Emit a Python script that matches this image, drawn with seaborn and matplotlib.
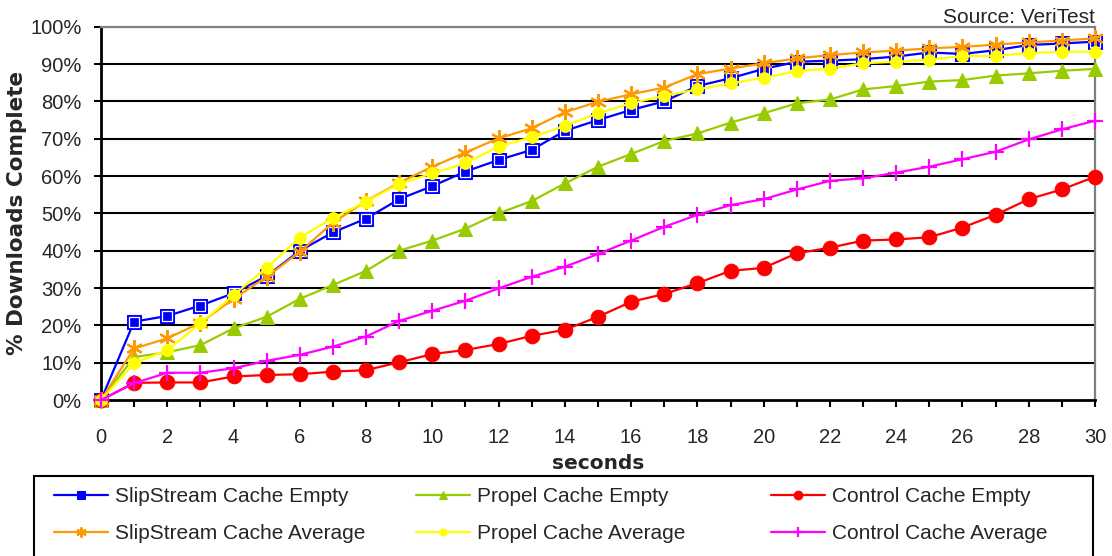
import numpy as np
import seaborn as sns
import matplotlib.pyplot as plt
from matplotlib.patches import Rectangle
from matplotlib.ticker import PercentFormatter, MultipleLocator

# -----------------------------------------------------------------------------
# Data (% downloads complete per second)
# -----------------------------------------------------------------------------
seconds = list(range(0, 31))

slip_empty = [0, 21.0, 22.5, 25.3, 28.6, 33.2, 40.0, 44.9, 48.6, 53.8, 57.3,
              61.2, 64.3, 67.0, 72.1, 75.0, 77.7, 80.0, 84.1, 86.2, 88.7,
              90.6, 90.9, 91.3, 92.0, 93.1, 92.7, 93.7, 95.1, 95.5, 96.0]
slip_avg = [0, 13.8, 16.5, 20.7, 27.1, 33.0, 39.7, 47.5, 53.3, 58.2, 62.5,
            66.3, 70.1, 72.8, 77.1, 79.9, 81.9, 83.7, 87.3, 88.8, 90.2,
            91.5, 92.4, 93.1, 93.6, 94.2, 94.6, 95.2, 95.8, 96.3, 96.9]
propel_empty = [0, 11.5, 12.8, 14.7, 19.2, 22.3, 27.1, 30.8, 34.6, 40.0, 42.7,
                45.9, 50.0, 53.3, 58.0, 62.5, 65.9, 69.4, 71.4, 74.3, 76.8,
                79.5, 80.5, 83.2, 84.1, 85.3, 85.7, 86.9, 87.5, 88.2, 88.7]
propel_avg = [0, 9.8, 13.4, 20.5, 28.1, 35.4, 43.5, 48.8, 53.1, 57.9, 60.7,
              63.4, 67.9, 70.4, 73.4, 76.8, 79.5, 81.5, 83.2, 84.8, 86.3,
              88.1, 88.8, 90.2, 90.6, 91.2, 92.1, 92.2, 92.9, 93.3, 93.3]
control_empty = [0, 4.6, 4.7, 4.7, 6.3, 6.7, 6.9, 7.6, 8.0, 10.1, 12.3,
                 13.4, 15.0, 17.2, 18.8, 22.3, 26.3, 28.4, 31.3, 34.6, 35.4,
                 39.3, 40.8, 42.7, 43.0, 43.6, 46.2, 49.6, 53.8, 56.4, 59.8]
control_avg = [0, 4.5, 7.3, 7.3, 8.5, 10.5, 12.1, 14.3, 17.0, 21.2, 23.9,
               26.6, 29.9, 33.0, 35.7, 39.1, 42.7, 46.4, 49.6, 52.2, 53.8,
               56.4, 58.7, 59.4, 60.9, 62.5, 64.5, 66.5, 69.8, 72.5, 74.8]

sns.set_theme(style="white")
plt.rcParams["font.family"] = ["Liberation Sans", "DejaVu Sans"]

W, H = 1112, 556
fig = plt.figure(figsize=(W / 100, H / 100), dpi=100)
ax = fig.add_axes([101 / W, 1 - 400 / H, (1095 - 101) / W, (400 - 26.7) / H])

# horizontal gridlines
for yv in range(10, 100, 10):
    ax.axhline(yv, color="black", lw=1.5, zorder=1)

lw = 1.6
sns.lineplot(x=seconds, y=slip_empty, ax=ax, color="#0000FF", lw=lw,
             marker="s", markersize=10.5, markeredgecolor="#0000FF",
             label="SlipStream Cache Empty", zorder=3, clip_on=False)
ax.plot(seconds, slip_empty, ls="none", marker="s", markersize=6.5,
        markerfacecolor="none", markeredgecolor="white", markeredgewidth=0.9,
        zorder=3, clip_on=False)
sns.lineplot(x=seconds, y=propel_empty, ax=ax, color="#99CC00", lw=lw,
             marker="^", markersize=10.5, markeredgecolor="#99CC00",
             label="Propel Cache Empty", zorder=4, clip_on=False)
sns.lineplot(x=seconds, y=control_empty, ax=ax, color="#FF0000", lw=lw,
             marker="o", markersize=10.5, markeredgecolor="#FF0000",
             label="Control Cache Empty", zorder=4, clip_on=False)
sns.lineplot(x=seconds, y=slip_avg, ax=ax, color="#FF9900", lw=lw,
             marker=(6, 2, 0), markersize=12, markeredgewidth=1.6,
             markeredgecolor="#FF9900",
             label="SlipStream Cache Average", zorder=5, clip_on=False)
sns.lineplot(x=seconds, y=propel_avg, ax=ax, color="#FFFF00", lw=lw,
             marker="o", markersize=8.5, markeredgecolor="#FFFF00",
             label="Propel Cache Average", zorder=6, clip_on=False)
sns.lineplot(x=seconds, y=control_avg, ax=ax, color="#FF00FF", lw=lw,
             marker="+", markersize=12, markeredgewidth=1.6,
             markeredgecolor="#FF00FF",
             label="Control Cache Average", zorder=7, clip_on=False)

handles, labels = ax.get_legend_handles_labels()
ax.get_legend().remove()

ax.set_xlim(0, 30)
ax.set_ylim(0, 100)
ax.xaxis.set_major_locator(MultipleLocator(2))
ax.xaxis.set_minor_locator(MultipleLocator(1))
ax.yaxis.set_major_locator(MultipleLocator(10))
ax.yaxis.set_major_formatter(PercentFormatter(xmax=100, decimals=0))
ax.tick_params(axis="x", which="both", direction="out", length=5, width=1.5,
               color="black", bottom=True, labelsize=14.5, pad=15)
ax.tick_params(axis="y", direction="out", length=5, width=1.5,
               color="black", left=True, labelsize=14.5, pad=9)

for s in ["left", "bottom"]:
    ax.spines[s].set_color("black")
    ax.spines[s].set_linewidth(2.0)
for s in ["top", "right"]:
    ax.spines[s].set_color("#808080")
    ax.spines[s].set_linewidth(1.6)

ax.set_xlabel("seconds", fontsize=14.5, fontweight="bold",
              family="DejaVu Sans", labelpad=5)
ax.set_ylabel("% Downloads Complete", fontsize=15.5, fontweight="bold",
              family="DejaVu Sans", labelpad=2)

fig.text(1095 / W, 1 - 23 / H, "Source: VeriTest", ha="right",
         va="baseline", fontsize=15)

# legend: frame plus three columns
fig.add_artist(Rectangle((34 / W, -0.05), (1093 - 34) / W, 0.05 + (556 - 476) / H,
                         transform=fig.transFigure, fill=False,
                         edgecolor="black", lw=1.5, clip_on=False))
col_x = [54, 416, 771]
order = [[0, 3], [1, 4], [2, 5]]
for cx, idx in zip(col_x, order):
    leg = fig.legend([handles[i] for i in idx], [labels[i] for i in idx],
                     loc="upper left", bbox_to_anchor=(cx / W, 1 - 487 / H),
                     frameon=False, fontsize=15, handlelength=2.6,
                     handletextpad=0.34, labelspacing=0.88, borderpad=0,
                     borderaxespad=0, markerscale=0.6)

fig.savefig("out.png", dpi=100)
plt.close(fig)
